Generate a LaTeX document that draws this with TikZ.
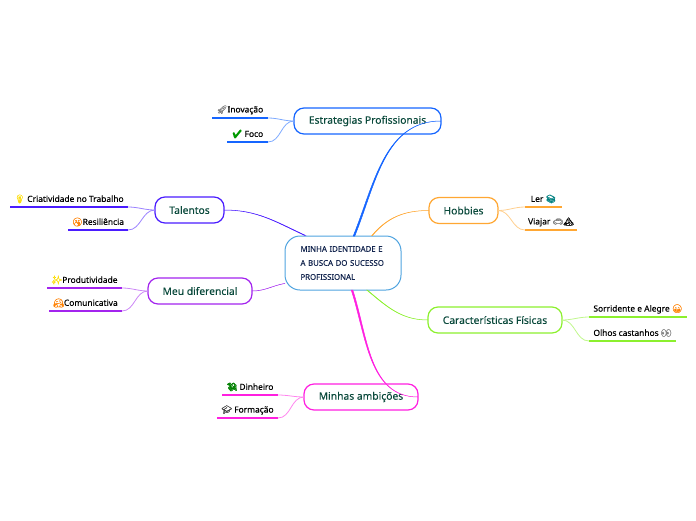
\documentclass[tikz,border=0pt]{standalone}
\usepackage{fontspec}
\setmainfont[FakeBold=0.25]{Noto Sans}
\newfontfamily\emojifont[FakeBold=0.7]{Noto Emoji}
\usetikzlibrary{positioning}
\definecolor{estcolor}{HTML}{1565FF}
\definecolor{talcolor}{HTML}{4A1CFF}
\definecolor{meucolor}{HTML}{A324EE}
\definecolor{hobcolor}{HTML}{FFA733}
\definecolor{carcolor}{HTML}{8CF02E}
\definecolor{ambcolor}{HTML}{FF1FE0}
\definecolor{rootcolor}{HTML}{4FA3DF}
\definecolor{branchtext}{HTML}{0B4A3C}
\definecolor{roottext}{HTML}{14264F}
\newcommand{\emo}[2]{{\emojifont\color{#1}#2}}
% tapered link from the central box
\newcommand{\rootlink}[6]{
    \filldraw[#1, line width=0.5pt] ([shift={(#6)}]#2) to[out=#3, in=#4] (#5) to[out=#4, in=#3] ([shift={(-#6)}]#2) -- cycle;
}
\tikzset{
    rootbox/.style={draw=rootcolor, line width=1pt, outer sep=0pt, rounded corners=15pt, minimum width=116pt, minimum height=54pt, text width=85pt, align=left, inner xsep=0pt, inner ysep=0pt, text=roottext, font=\fontsize{7.8}{14}\selectfont},
    branchbox/.style={draw=#1, line width=1.2pt, outer sep=0pt, rounded corners=10pt, minimum height=26pt, inner sep=0pt, text=branchtext, font=\fontsize{10.3}{12}\selectfont},
    leaf/.style={minimum width=#1, minimum height=16pt, inner xsep=1pt, inner ysep=0pt, outer sep=0pt, text=black, font=\fontsize{8.4}{10}\selectfont},
    leaflink/.style={draw=#1!55, line width=0.8pt},
}
\begin{document}
\begin{tikzpicture}[x=1pt, y=1pt]
    \useasboundingbox (0,0) rectangle (696,-520);

    % Central box
    \node (root) [rootbox] at (343,-263) {MINHA IDENTIDADE E\\A BUSCA DO SUCESSO\\PROFISSIONAL};

    % Branches
    \node (est) [branchbox=estcolor, minimum width=147pt, above=102pt of root, xshift=24.5pt] {Estrategias Profissionais};
    \node (tal) [branchbox=talcolor, minimum width=69pt, left=61pt of root, yshift=53pt] {Talentos};
    \node (meu) [branchbox=meucolor, minimum width=104pt, left=33pt of root, yshift=-28pt] {Meu diferencial};
    \node (hob) [branchbox=hobcolor, minimum width=69pt, right=28pt of root, yshift=52.5pt] {Hobbies};
    \node (car) [branchbox=carcolor, minimum width=134pt, right=27pt of root, yshift=-57pt] {Características Físicas};
    \node (amb) [branchbox=ambcolor, minimum width=114pt, below=94pt of root, xshift=18pt] {Minhas ambições};

    % Leaves
    \node (inov) [leaf=56pt, left=26pt of est, yshift=11pt] {\emo{gray}{🚀}Inovação};
    \node (foco) [leaf=41pt, left=26pt of est, yshift=-13pt] {\emo{green!60!black}{✔} Foco};
    \node (cria) [leaf=118pt, left=27pt of tal, yshift=11pt] {\emo{yellow!80!orange}{💡} Criatividade no Trabalho};
    \node (resi) [leaf=60pt, left=27pt of tal, yshift=-12pt] {\emo{orange}{🤭}Resiliência};
    \node (prod) [leaf=75pt, left=26pt of meu, yshift=11pt] {\emo{yellow!80!orange}{✨}Produtividade};
    \node (comu) [leaf=73pt, left=26pt of meu, yshift=-12pt] {\emo{orange}{🤗}Comunicativa};
    \node (ler) [leaf=37pt, right=27pt of hob, yshift=11.5pt] {Ler \emo{green!50!blue}{📚}};
    \node (viaj) [leaf=52pt, right=27pt of hob, yshift=-11.5pt] {Viajar \emo{gray}{🚗}\emo{black}{🏔}};
    \node (sorr) [leaf=98pt, right=27pt of car, yshift=11pt] {Sorridente e Alegre \emo{orange}{😁}};
    \node (olho) [leaf=87pt, right=27pt of car, yshift=-13pt] {Olhos castanhos \emo{gray}{👀}};
    \node (dinh) [leaf=56pt, left=26pt of amb, yshift=10pt] {\emo{green!50!black}{💸} Dinheiro};
    \node (form) [leaf=61pt, left=26pt of amb, yshift=-13pt] {\emo{darkgray}{🎓} Formação};

    % Underlines of the leaves
    \foreach \leafname/\leafcolor in {inov/estcolor, foco/estcolor, cria/talcolor, resi/talcolor, prod/meucolor, comu/meucolor, ler/hobcolor, viaj/hobcolor, sorr/carcolor, olho/carcolor, dinh/ambcolor, form/ambcolor}
        \fill[\leafcolor] ([yshift=-0.8pt]\leafname.south west) rectangle ([yshift=0.8pt]\leafname.south east);

    % Links from the leaves
    \foreach \leafname/\branchname/\leafcolor in {inov/est/estcolor, foco/est/estcolor, cria/tal/talcolor, resi/tal/talcolor, prod/meu/meucolor, comu/meu/meucolor, dinh/amb/ambcolor, form/amb/ambcolor}
        \draw[leaflink=\leafcolor] (\leafname.south east) to[out=0, in=180] (\branchname.west);
    \foreach \leafname/\branchname/\leafcolor in {ler/hob/hobcolor, viaj/hob/hobcolor, sorr/car/carcolor, olho/car/carcolor}
        \draw[leaflink=\leafcolor] (\branchname.east) to[out=0, in=180] (\leafname.south west);

    % Links from the central box
    \coordinate (rootest) at ([xshift=11pt]root.north);
    \coordinate (roottal) at ([xshift=-38pt]root.north);
    \coordinate (roothob) at ([xshift=29pt]root.north);
    \coordinate (rootmeu) at ([yshift=-21pt]root.west);
    \coordinate (rootcar) at ([xshift=24pt]root.south);
    \coordinate (rootamb) at ([xshift=9pt]root.south);
    \rootlink{estcolor}{rootest}{68}{180}{est.east}{0.8pt,0pt}
    \rootlink{talcolor}{roottal}{155}{0}{tal.east}{0.4pt,0.6pt}
    \rootlink{meucolor}{rootmeu}{190}{0}{meu.east}{0pt,0.6pt}
    \rootlink{hobcolor}{roothob}{50}{180}{hob.west}{0.3pt,0.3pt}
    \rootlink{carcolor}{rootcar}{-40}{180}{car.west}{0.3pt,0pt}
    \rootlink{ambcolor}{rootamb}{-72}{180}{amb.east}{0.8pt,0pt}
\end{tikzpicture}
\end{document}
